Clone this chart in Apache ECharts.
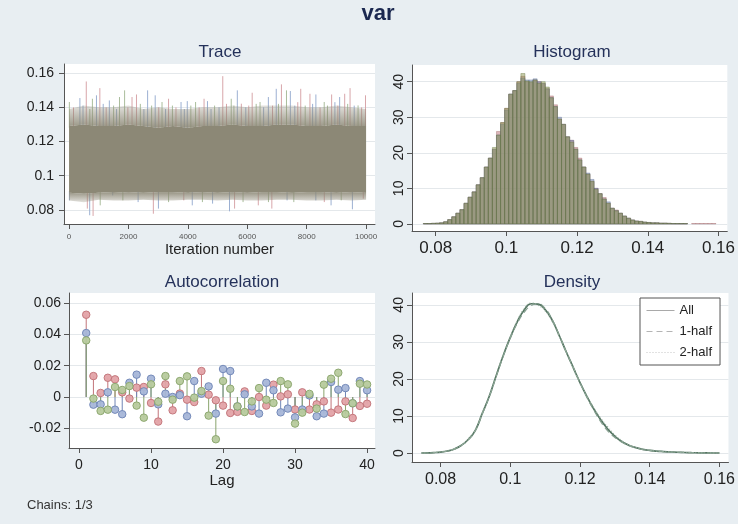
<!DOCTYPE html>
<html>
<head>
<meta charset="utf-8">
<title>var</title>
<script src="https://cdn.jsdelivr.net/npm/echarts@6.0.0/dist/echarts.min.js"></script>
<style>
html, body { margin: 0; padding: 0; background: #e8eef2; }
#chart { width: 738px; height: 524px; }
</style>
</head>
<body>
<div id="chart"></div>
<script>
const bandIter = [0, 500, 1000, 1500, 2000, 2500, 3000, 3500, 4000, 4500, 5000, 5500, 6000, 6500, 7000, 7500, 8000, 8500, 9000, 9500, 10000];
const coreHigh = [0.129, 0.130, 0.129, 0.129, 0.130, 0.129, 0.128, 0.129, 0.128, 0.129, 0.129, 0.130, 0.129, 0.129, 0.130, 0.130, 0.129, 0.129, 0.130, 0.129, 0.129];
const coreLow = [0.0900, 0.0895, 0.0900, 0.0905, 0.0900, 0.0905, 0.0900, 0.0900, 0.0905, 0.0900, 0.0905, 0.0900, 0.0905, 0.0900, 0.0900, 0.0905, 0.0900, 0.0900, 0.0905, 0.0900, 0.0905];
const hazeHigh = [0.139, 0.141, 0.140, 0.140, 0.141, 0.139, 0.140, 0.139, 0.139, 0.140, 0.140, 0.141, 0.140, 0.141, 0.141, 0.141, 0.140, 0.140, 0.141, 0.140, 0.139];
const hazeLow = [0.0855, 0.0845, 0.0860, 0.0855, 0.0855, 0.0860, 0.0855, 0.0855, 0.0860, 0.0860, 0.0855, 0.0860, 0.0855, 0.0855, 0.0860, 0.0860, 0.0855, 0.0855, 0.0860, 0.0855, 0.0860];

const topSpikeIter = [10, 365, 580, 786, 923, 1037, 1356, 1698, 1870, 2120, 2270, 2645, 2900, 3130, 3350, 3770, 3980, 4260, 4545, 4660, 5175, 5460, 5665, 5800, 6165, 6430, 6710, 6975, 7150, 7320, 7450, 7800, 8110, 8310, 8590, 8840, 9110, 9280, 9460, 9730, 9980];
const topSpikeVal = [0.1431, 0.1454, 0.1551, 0.1450, 0.1470, 0.1512, 0.1440, 0.1460, 0.1499, 0.1460, 0.1475, 0.1499, 0.1470, 0.1431, 0.1450, 0.1431, 0.1436, 0.1431, 0.1450, 0.1436, 0.1582, 0.1450, 0.1499, 0.1421, 0.1485, 0.1431, 0.1460, 0.1508, 0.1534, 0.1499, 0.1495, 0.1508, 0.1479, 0.1475, 0.1431, 0.1475, 0.1460, 0.1479, 0.1512, 0.1411, 0.1470];
const topSpikeChain = [2, 1, 0, 2, 1, 0, 1, 2, 2, 0, 0, 1, 1, 2, 0, 1, 1, 2, 0, 1, 0, 2, 1, 0, 0, 2, 1, 1, 0, 2, 1, 0, 0, 1, 2, 0, 1, 0, 0, 2, 0];
const midSpikeIter = [150, 470, 700, 1150, 1250, 1500, 1600, 1980, 2400, 2520, 2780, 3020, 3250, 3480, 3600, 3880, 4100, 4380, 4780, 4900, 5050, 5300, 5550, 5950, 6050, 6300, 6550, 6850, 7050, 7600, 7700, 7950, 8200, 8450, 8700, 8950, 9050, 9380, 9600, 9850];
const midSpikeVal = [0.140, 0.141, 0.139, 0.142, 0.140, 0.141, 0.139, 0.140, 0.142, 0.139, 0.141, 0.140, 0.139, 0.141, 0.140, 0.139, 0.141, 0.140, 0.139, 0.141, 0.140, 0.142, 0.141, 0.140, 0.141, 0.142, 0.140, 0.141, 0.142, 0.141, 0.143, 0.141, 0.142, 0.140, 0.141, 0.143, 0.141, 0.142, 0.141, 0.140];
const midSpikeChain = [0, 1, 2, 1, 0, 2, 1, 0, 2, 1, 2, 0, 1, 2, 0, 1, 2, 0, 1, 2, 1, 0, 2, 1, 0, 2, 1, 0, 2, 1, 0, 2, 1, 0, 2, 1, 0, 2, 1, 0];
const lowSpikeIter = [11, 615, 695, 809, 1049, 1470, 1812, 2325, 2838, 3009, 3351, 3863, 4148, 4490, 4832, 5402, 5573, 5858, 6371, 6713, 6827, 7340, 7567, 8308, 8593, 8821, 9163, 9539, 9905];
const lowSpikeVal = [0.0856, 0.0808, 0.0769, 0.0765, 0.0827, 0.0885, 0.0856, 0.0846, 0.0778, 0.0808, 0.0846, 0.0856, 0.0827, 0.0846, 0.0837, 0.0792, 0.0808, 0.0846, 0.0827, 0.0846, 0.0808, 0.0856, 0.0846, 0.0856, 0.0846, 0.0827, 0.0856, 0.0804, 0.0866];
const lowSpikeChain = [1, 0, 1, 0, 2, 1, 2, 1, 0, 1, 2, 0, 1, 2, 1, 1, 0, 2, 0, 2, 0, 1, 2, 1, 0, 1, 2, 1, 0];

// ---- Histogram: bins of width 0.00115 starting at 0.0765 ----
const histStart = 0.0765;
const histWidth = 0.00115;
const histRed = [0.1, 0.1, 0.15, 0.2, 0.3, 0.6, 1.2, 2.0, 3.0, 4.0, 5.8, 7.5, 9.0, 11, 13, 16, 18.5, 21, 26, 28.5, 32.5, 36.5, 37.5, 40, 41.5, 40, 39.8, 40.5, 40, 39.5, 38, 36, 33.5, 29.5, 28, 24.5, 23.5, 21.5, 18.5, 16, 14, 12, 10, 8.5, 7.4, 5.8, 4.4, 3.9, 3, 2.2, 1.6, 1.1, 0.8, 0.7, 0.5, 0.4, 0.3, 0.3, 0.2, 0.2, 0.15, 0.1, 0.1, 0.1, 0.1, 0, 0.1, 0.1, 0.1, 0.1, 0.1, 0.1];
const histBlue = [0.1, 0.1, 0.15, 0.2, 0.3, 0.6, 1.2, 2.0, 3.0, 4.0, 5.8, 7.5, 9.0, 11, 13, 16, 18.5, 21, 25, 28, 32, 36.5, 37.5, 39.5, 41, 40.5, 40.5, 40.8, 40, 39.5, 38, 35.5, 33, 30, 28, 24.5, 23.5, 21, 18, 16, 14.3, 12.5, 10, 8.5, 7, 6.2, 4.4, 3.7, 3, 2.2, 1.6, 1.1, 0.8, 0.7, 0.5, 0.4, 0.3, 0.3, 0.2, 0.2, 0.15, 0.1, 0.1, 0.1, 0.1];
const histGreen = [0.1, 0.1, 0.15, 0.2, 0.3, 0.6, 1.2, 2.0, 3.0, 4.0, 5.8, 7.5, 9.0, 11, 13, 16, 18.5, 21.5, 25, 28.5, 32.5, 36.5, 37.5, 40, 42.3, 40.2, 40, 40.5, 39.5, 40, 38.5, 35.5, 33, 29.5, 28, 24.5, 23, 21, 18, 16, 14, 12, 9.7, 8.5, 7, 5.8, 4.4, 3.7, 3, 2.2, 1.6, 1.1, 0.8, 0.7, 0.5, 0.4, 0.3, 0.3, 0.2, 0.2, 0.15, 0.1, 0.1, 0.1, 0.1];

// ---- Autocorrelation, lags 1..40 ----
const lags = [1, 2, 3, 4, 5, 6, 7, 8, 9, 10, 11, 12, 13, 14, 15, 16, 17, 18, 19, 20, 21, 22, 23, 24, 25, 26, 27, 28, 29, 30, 31, 32, 33, 34, 35, 36, 37, 38, 39, 40];
const acfRed = [0.0526, 0.0134, 0.0026, 0.0123, 0.0113, 0.003, -0.001, 0.006, 0.0064, -0.0038, -0.0157, 0.0081, -0.0085, 0.0022, -0.0017, -0.0032, 0.0166, 0.0015, -0.0021, -0.0055, -0.0102, -0.0095, 0.0036, -0.0089, 0.0, -0.0055, 0.0079, 0.0004, 0.0017, -0.008, 0.003, -0.008, -0.0047, -0.0028, -0.01, -0.008, -0.0028, -0.0134, -0.0057, -0.0043];
const acfBlue = [0.0409, -0.0049, -0.0047, 0.003, -0.0081, -0.011, 0.0091, 0.0143, 0.0036, 0.0117, -0.0047, 0.0021, 0.0, 0.0012, -0.0123, 0.0102, 0.0021, 0.0068, -0.0106, 0.0179, 0.0166, -0.006, 0.0017, -0.006, -0.0106, 0.0091, 0.0043, -0.0098, -0.0074, -0.013, -0.008, 0.001, -0.0123, -0.0106, 0.0096, 0.0047, 0.0057, -0.004, 0.0102, 0.0043];
const acfGreen = [0.0362, -0.001, -0.0089, -0.0081, 0.0064, 0.0045, 0.007, -0.0055, -0.0132, 0.0081, -0.003, 0.0134, -0.0017, 0.0102, 0.0132, -0.0004, 0.0038, -0.0119, -0.027, 0.0102, 0.0053, -0.006, -0.0096, -0.0028, 0.0057, -0.0017, -0.0038, 0.0102, 0.0081, -0.017, -0.01, 0.002, -0.0074, 0.0079, 0.0117, 0.0155, -0.0109, -0.004, 0.0085, 0.008];

// ---- Density ----
const densX = [0.0745, 0.076, 0.078, 0.080, 0.082, 0.084, 0.086, 0.088, 0.090, 0.092, 0.094, 0.096, 0.098, 0.100, 0.102, 0.104, 0.106, 0.108, 0.110, 0.112, 0.114, 0.116, 0.118, 0.120, 0.122, 0.124, 0.126, 0.128, 0.130, 0.132, 0.134, 0.136, 0.138, 0.140, 0.142, 0.144, 0.146, 0.148, 0.150, 0.152, 0.154, 0.156, 0.158, 0.160];
const densAll = [0, 0.02, 0.1, 0.25, 0.55, 1.1, 2.1, 3.7, 6.2, 10.8, 15.4, 21.0, 26.4, 31.2, 35.4, 38.6, 40.3, 40.2, 38.7, 35.9, 31.8, 27.4, 23.2, 19.0, 15.2, 11.8, 8.9, 6.4, 4.5, 3.1, 2.1, 1.45, 1.0, 0.7, 0.5, 0.38, 0.28, 0.2, 0.14, 0.09, 0.06, 0.03, 0.01, 0];
const densHalf1 = [0, 0.02, 0.1, 0.25, 0.55, 1.1, 2.1, 3.6, 6.1, 10.6, 15.2, 20.8, 26.2, 31.0, 35.0, 38.0, 39.8, 40.3, 39.0, 36.1, 31.9, 27.5, 23.3, 19.1, 15.0, 11.5, 8.4, 5.9, 4.2, 2.9, 2.0, 1.4, 0.95, 0.7, 0.5, 0.38, 0.28, 0.2, 0.14, 0.09, 0.06, 0.03, 0.01, 0];
const densHalf2 = [0, 0.02, 0.1, 0.25, 0.55, 1.1, 2.1, 3.8, 6.3, 11.0, 15.6, 21.2, 26.6, 31.4, 35.7, 39.0, 40.5, 39.9, 38.4, 35.6, 31.6, 27.2, 23.0, 18.8, 15.4, 12.1, 9.3, 7.0, 4.9, 3.3, 2.2, 1.5, 1.05, 0.72, 0.5, 0.38, 0.28, 0.2, 0.14, 0.09, 0.06, 0.03, 0.01, 0];

const FONT = "'Liberation Sans', Arial, sans-serif";
const chainSpike = ['#d8a6aa', '#9cb0d2', '#aabd9c'];
const chainHistFill = ['rgba(185,110,115,0.5)', 'rgba(105,125,170,0.45)', 'rgba(140,150,80,0.5)'];
const chainHistEdge = ['rgba(150,85,90,0.5)', 'rgba(80,100,145,0.5)', 'rgba(100,115,60,0.55)'];
const chainMarkFill = ['#e3a3a8', '#a6b6d8', '#b7ca9d'];
const chainMarkEdge = ['#c27479', '#7086b6', '#8aa56d'];
const traceColor = '#8c8876';

let chart = echarts.init(document.getElementById('chart'));

// one polygon per band (drawn on the first item) so no seams show between segments
// fill: plain colour, or [topAlpha, bottomAlpha] for a fading haze
function bandSeries(lo, hi, fill) {
    return {
        type: 'custom', xAxisIndex: 0, yAxisIndex: 0, silent: true,
        data: bandIter.map((it, i) => [it, lo[i], hi[i]]),
        renderItem: (params, api) => {
            if (params.dataIndex !== 0) return null;
            let top = bandIter.map((it, i) => api.coord([it, hi[i]]));
            let bottom = bandIter.map((it, i) => api.coord([it, lo[i]])).reverse();
            let style = typeof fill === 'string' ? { fill: fill } : {
                fill: new echarts.graphic.LinearGradient(0, 0, 0, 1, [
                    { offset: 0, color: 'rgba(140,136,118,' + fill[0] + ')' },
                    { offset: 1, color: 'rgba(140,136,118,' + fill[1] + ')' }
                ])
            };
            return { type: 'polygon', shape: { points: top.concat(bottom) }, style: style };
        }
    };
}

function spikeSeries(iters, vals, chains, base) {
    return {
        type: 'custom', xAxisIndex: 0, yAxisIndex: 0, silent: true,
        data: iters.map((it, i) => [it, vals[i], chains[i]]),
        renderItem: (params, api) => {
            let p0 = api.coord([api.value(0), base]);
            let p1 = api.coord([api.value(0), api.value(1)]);
            return {
                type: 'line',
                shape: { x1: p0[0], y1: p0[1], x2: p1[0], y2: p1[1] },
                style: { stroke: chainSpike[api.value(2)], lineWidth: 1 }
            };
        }
    };
}

function histSeries(vals, k) {
    return {
        type: 'custom', xAxisIndex: 1, yAxisIndex: 1, silent: true,
        data: vals.map((v, i) => [histStart + i * histWidth, v]),
        renderItem: (params, api) => {
            let x0 = api.value(0), v = api.value(1);
            if (!v) return null;
            let p0 = api.coord([x0, v]);
            let p1 = api.coord([x0 + histWidth, 0]);
            return {
                type: 'rect',
                shape: { x: p0[0], y: p0[1], width: p1[0] - p0[0], height: p1[1] - p0[1] },
                style: { fill: chainHistFill[k], stroke: chainHistEdge[k], lineWidth: 0.7 }
            };
        }
    };
}

function dropSeries(vals, k) {
    return {
        type: 'custom', xAxisIndex: 2, yAxisIndex: 2, silent: true,
        data: lags.map((l, i) => [l, vals[i]]),
        renderItem: (params, api) => {
            let p0 = api.coord([api.value(0), 0]);
            let p1 = api.coord([api.value(0), api.value(1)]);
            return {
                type: 'line',
                shape: { x1: p0[0], y1: p0[1], x2: p1[0], y2: p1[1] },
                style: { stroke: chainMarkEdge[k], lineWidth: 1 }
            };
        }
    };
}

function markSeries(vals, k) {
    return {
        type: 'scatter', xAxisIndex: 2, yAxisIndex: 2, silent: true,
        symbol: 'circle', symbolSize: 7.5,
        data: lags.map((l, i) => [l, vals[i]]),
        itemStyle: { color: chainMarkFill[k], borderColor: chainMarkEdge[k], borderWidth: 1, opacity: 0.95 }
    };
}

function valAxis(grid, min, max, ticks, opts) {
    opts = opts || {};
    return {
        type: 'value', gridIndex: grid, min: min, max: max,
        axisLine: { show: true, onZero: false, lineStyle: { color: '#555', width: 1 } },
        axisTick: { show: true, length: 5, customValues: ticks, lineStyle: { color: '#555' } },
        axisLabel: Object.assign({ customValues: ticks, color: '#222', fontFamily: FONT, fontSize: 14, formatter: v => String(v) }, opts.label || {}),
        splitLine: { show: !!opts.split, lineStyle: { color: '#e4e8eb', width: 1 } },
        name: opts.name || '', nameLocation: 'middle', nameGap: opts.nameGap || 20,
        nameTextStyle: { color: '#222', fontFamily: FONT, fontSize: opts.nameSize || 14 }
    };
}

let option = {
    backgroundColor: '#e8eef2',
    animation: false,
    grid: [
        { left: 64, top: 64, width: 311, height: 160, show: true, backgroundColor: '#fff', borderWidth: 0 },
        { left: 412, top: 65, width: 320, height: 166, show: true, backgroundColor: '#fff', borderWidth: 0 },
        { left: 69, top: 293, width: 306, height: 155, show: true, backgroundColor: '#fff', borderWidth: 0 },
        { left: 412, top: 293, width: 320, height: 169, show: true, backgroundColor: '#fff', borderWidth: 0 }
    ],
    xAxis: [
        valAxis(0, -170, 10300, [0, 2000, 4000, 6000, 8000, 10000], { label: { fontSize: 8, color: '#555', margin: 9 }, name: 'Iteration number', nameGap: 17, nameSize: 15 }),
        valAxis(1, 0.0733, 0.1625, [0.08, 0.1, 0.12, 0.14, 0.16], { label: { fontSize: 17, margin: 9 } }),
        valAxis(2, -1.39, 41.1, [0, 10, 20, 30, 40], { label: { fontSize: 14, margin: 10 }, name: 'Lag', nameGap: 21, nameSize: 15 }),
        valAxis(3, 0.0718, 0.1626, [0.08, 0.1, 0.12, 0.14, 0.16], { label: { fontSize: 16, margin: 10 } })
    ],
    yAxis: [
        valAxis(0, 0.0718, 0.1653, [0.08, 0.1, 0.12, 0.14, 0.16], { split: true, label: { margin: 10 } }),
        valAxis(1, -2, 44.7, [0, 10, 20, 30, 40], { split: true, label: { rotate: 90, margin: 6 } }),
        valAxis(2, -0.0326, 0.0665, [-0.02, 0, 0.02, 0.04, 0.06], { split: true, label: { margin: 8 } }),
        valAxis(3, -2.43, 43.2, [0, 10, 20, 30, 40], { split: true, label: { rotate: 90, margin: 6 } })
    ],
    legend: {
        orient: 'vertical', left: 640, top: 298,
        itemWidth: 28, itemHeight: 14, itemGap: 8,
        padding: [6, 8, 6, 6],
        backgroundColor: '#fff', borderColor: '#555', borderWidth: 1, borderRadius: 0,
        textStyle: { fontFamily: FONT, fontSize: 13, color: '#222' },
        selectedMode: false,
        data: [
            { name: 'All', itemStyle: { color: 'rgba(0,0,0,0)', borderWidth: 0, opacity: 0 }, lineStyle: { color: '#a9a9a9', width: 1, type: 'solid' } },
            { name: '1-half', itemStyle: { color: 'rgba(0,0,0,0)', borderWidth: 0, opacity: 0 }, lineStyle: { color: '#b4b4b4', width: 1, type: [6, 4] } },
            { name: '2-half', itemStyle: { color: 'rgba(0,0,0,0)', borderWidth: 0, opacity: 0 }, lineStyle: { color: '#c4c4c4', width: 1, type: [1, 2] } }
        ]
    },
    graphic: [
        { type: 'text', x: 378, y: 14, style: { text: 'var', font: 'bold 22px ' + FONT, fill: '#1b2850', textAlign: 'center', textVerticalAlign: 'middle', align: 'center', verticalAlign: 'middle' } },
        { type: 'text', x: 220, y: 52, style: { text: 'Trace', font: '17px ' + FONT, fill: '#24315a', textAlign: 'center', textVerticalAlign: 'middle', align: 'center', verticalAlign: 'middle' } },
        { type: 'text', x: 572, y: 52, style: { text: 'Histogram', font: '17px ' + FONT, fill: '#24315a', textAlign: 'center', textVerticalAlign: 'middle', align: 'center', verticalAlign: 'middle' } },
        { type: 'text', x: 222, y: 282, style: { text: 'Autocorrelation', font: '17px ' + FONT, fill: '#24315a', textAlign: 'center', textVerticalAlign: 'middle', align: 'center', verticalAlign: 'middle' } },
        { type: 'text', x: 572, y: 282, style: { text: 'Density', font: '17px ' + FONT, fill: '#24315a', textAlign: 'center', textVerticalAlign: 'middle', align: 'center', verticalAlign: 'middle' } },
        { type: 'text', x: 27, y: 505, style: { text: 'Chains: 1/3', font: '13px ' + FONT, fill: '#333', textAlign: 'left', textVerticalAlign: 'middle', align: 'left', verticalAlign: 'middle' } }
    ],
    series: [
        spikeSeries(topSpikeIter, topSpikeVal, topSpikeChain, 0.128),
        spikeSeries(midSpikeIter, midSpikeVal, midSpikeChain, 0.128),
        spikeSeries(lowSpikeIter, lowSpikeVal, lowSpikeChain, 0.091),
        bandSeries(coreHigh, hazeHigh, [0.25, 0.9]),
        bandSeries(hazeLow, coreLow, [0.9, 0.25]),
        bandSeries(coreLow, coreHigh, traceColor),

        histSeries(histRed, 0),
        histSeries(histBlue, 1),
        histSeries(histGreen, 2),

        dropSeries(acfRed, 0), dropSeries(acfBlue, 1), dropSeries(acfGreen, 2),
        markSeries(acfRed, 0), markSeries(acfBlue, 1), markSeries(acfGreen, 2),

        { name: 'All', type: 'line', xAxisIndex: 3, yAxisIndex: 3, smooth: true, symbol: 'none', silent: true,
          data: densX.map((x, i) => [x, densAll[i]]), lineStyle: { color: '#557563', width: 1.7 } },
        { name: '1-half', type: 'line', xAxisIndex: 3, yAxisIndex: 3, smooth: true, symbol: 'none', silent: true,
          data: densX.map((x, i) => [x, densHalf1[i]]), lineStyle: { color: '#86a090', width: 1.2, type: [6, 4] } },
        { name: '2-half', type: 'line', xAxisIndex: 3, yAxisIndex: 3, smooth: true, symbol: 'none', silent: true,
          data: densX.map((x, i) => [x, densHalf2[i]]), lineStyle: { color: '#98b09f', width: 1.2, type: [1, 2] } }
    ]
};

chart.setOption(option);
</script>
</body>
</html>
